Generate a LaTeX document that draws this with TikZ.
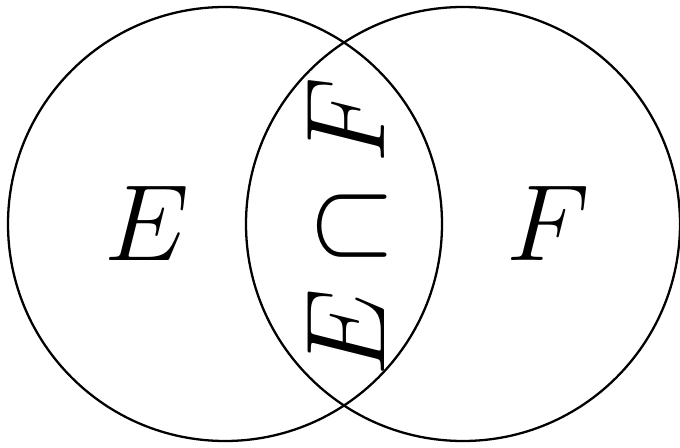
\documentclass[tikz,border=0pt]{standalone}
\usepackage{amsmath,amssymb}
\usepackage{tikz}

\begin{document}
\begin{tikzpicture}[setlabel/.style={font=\Huge, scale=2.48}]
	\useasboundingbox (0,0) rectangle (13.6,8.94);
	\tikzset{setcircle/.style={circle, draw, line width=1.3pt, minimum size=8.68cm, inner sep=0pt, outer sep=0pt}}
	\node[setcircle] (circE) at (4.5,4.46) {};
	\node[setcircle] (circF) at (9.26,4.46) {};
	% set labels
	\node[setlabel] (labE) at (2.94,4.48) {$E$};
	\node[setlabel] (labF) at (10.96,4.48) {$F$};
	\node[setlabel, scale=1.035, rotate=90] (labEF) at (6.92,4.4) {$E\cap F$};
\end{tikzpicture}
\end{document}
